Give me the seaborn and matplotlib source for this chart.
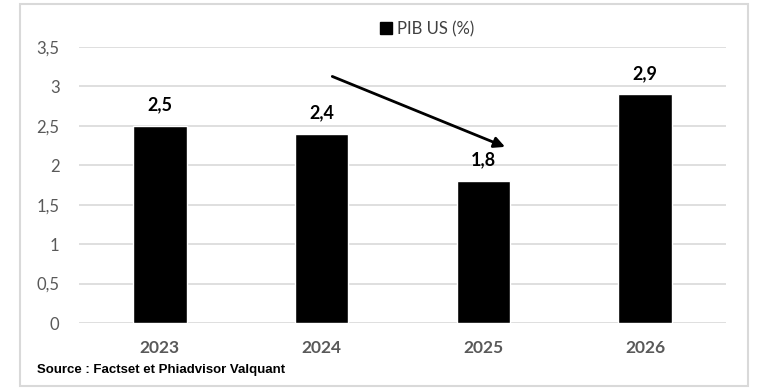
import matplotlib
matplotlib.use("Agg")
import matplotlib.pyplot as plt
import matplotlib.patches as mpatches
import seaborn as sns
import pandas as pd

years = ["2023", "2024", "2025", "2026"]
gdp = [2.5, 2.4, 1.8, 2.9]
yticks = [0, 0.5, 1, 1.5, 2, 2.5, 3, 3.5]
series_name = "PIB US (%)"
source = "Source : Factset et Phiadvisor Valquant"

sns.set_theme(style="white")
plt.rcParams["font.family"] = ["Lato", "DejaVu Sans"]

df = pd.DataFrame({"year": years, "gdp": gdp})

fig = plt.figure(figsize=(7.6, 3.9), dpi=100)
ax = fig.add_axes([79 / 760, 1 - 323 / 390, (726 - 79) / 760, (323 - 47) / 390])

sns.barplot(data=df, x="year", y="gdp", color="black", width=0.33,
            saturation=1, ax=ax, zorder=3)

ax.set_ylim(0, 3.5)
ax.set_yticks(yticks)
ax.set_yticklabels([f"{t:g}".replace(".", ",") for t in yticks])
ax.yaxis.grid(True, color="#d9d9d9", linewidth=1.2, zorder=0)
ax.set_xlabel("")
ax.set_ylabel("")
for s in ax.spines.values():
    s.set_visible(False)
ax.tick_params(axis="y", labelsize=12, colors="#595959", pad=14, length=0)
ax.tick_params(axis="x", labelsize=12.5, colors="#595959", pad=12, length=0)
for lab in ax.get_xticklabels():
    lab.set_fontweight("bold")

# value labels
for i, v in enumerate(gdp):
    ax.annotate(f"{v}".replace(".", ","), (i, v), xytext=(0, 9),
                textcoords="offset points", ha="center", va="bottom",
                fontsize=13, fontweight="bold", color="black")

# arrow
ax.annotate("", xy=(2.15, 2.22), xytext=(1.05, 3.14),
            arrowprops=dict(arrowstyle="-|>", color="black", lw=2,
                            mutation_scale=16))

# legend
handle = mpatches.Patch(color="black", label=series_name)
fig.legend(handles=[handle], loc="center", bbox_to_anchor=(427 / 760, 1 - 29 / 390),
           frameon=False, fontsize=12, handlelength=0.75, handleheight=0.75,
           handletextpad=0.3, labelcolor="#404040")

fig.text(37 / 760, 1 - 370 / 390, source, fontsize=9.5, fontweight="bold",
         family=["Liberation Sans", "DejaVu Sans"], va="center",
         color="black")

# outer frame
fig.patches.append(mpatches.Rectangle((20 / 760, 4 / 390), 728 / 760, 382 / 390,
                                      transform=fig.transFigure, fill=False,
                                      edgecolor="#d9d9d9", linewidth=1.5))

fig.savefig("out.png", dpi=100, facecolor="white")
